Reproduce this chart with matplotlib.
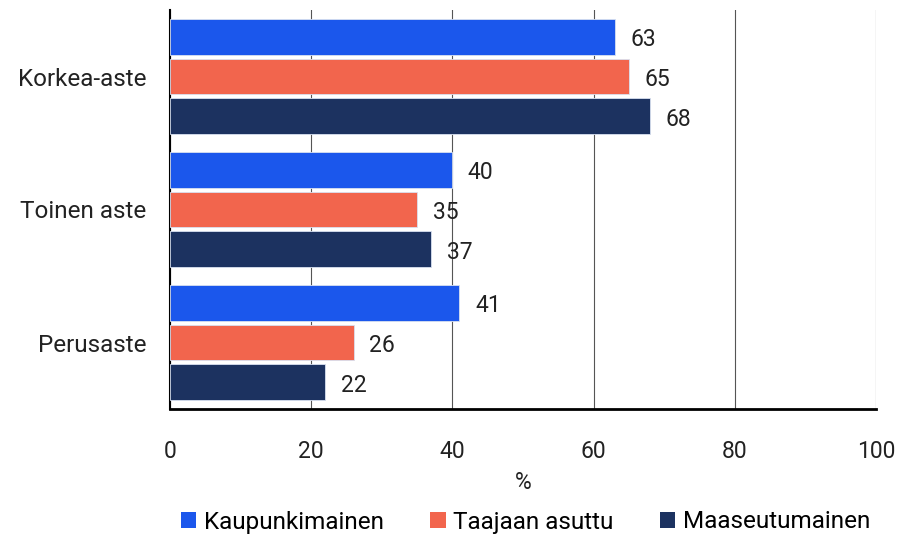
import numpy as np
import matplotlib.pyplot as plt
from matplotlib.patches import Patch

plt.rcParams['font.family'] = ['Roboto', 'DejaVu Sans']

# 数据
categories = ['Korkea-aste', 'Toinen aste', 'Perusaste']
series_names = ['Kaupunkimainen', 'Taajaan asuttu', 'Maaseutumainen']
kaupunki = [63, 40, 41]
taajaan = [65, 35, 26]
maaseutu = [68, 37, 22]
colors = ['#1B57EC', '#F2654D', '#1C3260']

fig = plt.figure(figsize=(8.98, 5.38), dpi=100)
ax = fig.add_axes([170 / 898, 1 - 409 / 538, 706 / 898, 399 / 538])

y = np.arange(len(categories))
offsets = [-0.3, 0.0, 0.3]
bar_h = 0.27
for vals, off, c in zip([kaupunki, taajaan, maaseutu], offsets, colors):
    ax.barh(y + off, vals, height=bar_h, color=c, edgecolor='#d8e0f0', linewidth=0.6, zorder=3)
    for yi, v in zip(y, vals):
        ax.text(v + 2.2, yi + off + 0.02, str(v), va='center', ha='left', fontsize=16.5, color='#222222')

ax.set_xlim(0, 100)
ax.set_ylim(2.5, -0.5)
ax.set_yticks(y)
ax.set_yticklabels(categories, fontsize=17.5, color='#222222')
ax.set_xticks([0, 20, 40, 60, 80, 100])
ax.tick_params(axis='x', labelsize=16.5, length=0, pad=22, colors='#222222')
ax.tick_params(axis='y', length=0, pad=17)
ax.set_xlabel('%', fontsize=16.5, color='#222222', labelpad=6)

ax.grid(axis='x', color='#555555', linewidth=0.8, zorder=0)
ax.spines['top'].set_visible(False)
ax.spines['right'].set_visible(False)
ax.spines['left'].set_linewidth(1.5)
ax.spines['bottom'].set_linewidth(2)
ax.spines['left'].set_color('black')
ax.spines['bottom'].set_color('black')

handles = [Patch(facecolor=c, label=n) for c, n in zip(colors, series_names)]
fig.legend(handles=handles, loc='center', bbox_to_anchor=(0.585, 1 - 522 / 538), ncol=3,
           frameon=False, fontsize=17.5, handlelength=0.65, handleheight=0.65,
           handletextpad=0.3, columnspacing=1.9)

fig.savefig('out.png', dpi=100)
